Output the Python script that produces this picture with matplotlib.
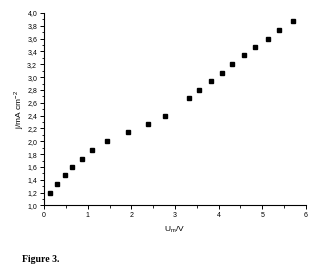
import numpy as np
import matplotlib
matplotlib.use('Agg')
import matplotlib.pyplot as plt
from matplotlib.ticker import MultipleLocator, FuncFormatter

# potential U_m / V and current density j / mA cm-2
u_m = [0.14, 0.30, 0.47, 0.64, 0.87, 1.09, 1.45, 1.92, 2.39, 2.78,
       3.33, 3.55, 3.83, 4.08, 4.31, 4.58, 4.84, 5.12, 5.39, 5.70]
j = [1.20, 1.33, 1.47, 1.60, 1.73, 1.87, 2.00, 2.14, 2.27, 2.40,
     2.67, 2.80, 2.94, 3.07, 3.20, 3.34, 3.47, 3.60, 3.73, 3.87]

plt.rcParams['font.family'] = ['Liberation Sans', 'DejaVu Sans']

fig = plt.figure(figsize=(3.29, 2.71), dpi=100)
ax = fig.add_axes([0.134, 0.242, 0.796, 0.71])

ax.plot(u_m, j, 'ks', markersize=3.2, linestyle='None')

ax.set_xlim(0, 6)
ax.set_ylim(1.0, 4.0)
ax.xaxis.set_major_locator(MultipleLocator(1))
ax.xaxis.set_minor_locator(MultipleLocator(0.5))
ax.yaxis.set_major_locator(MultipleLocator(0.2))
ax.yaxis.set_minor_locator(MultipleLocator(0.1))
ax.yaxis.set_major_formatter(FuncFormatter(lambda v, p: f'{v:.1f}'.replace('.', ',')))

ax.spines['top'].set_visible(False)
ax.spines['right'].set_visible(False)
for s in ('left', 'bottom'):
    ax.spines[s].set_linewidth(0.8)
ax.tick_params(which='major', direction='out', length=3, width=0.7, labelsize=5, pad=2)
ax.tick_params(which='minor', direction='out', length=1.8, width=0.6)

ax.set_xlabel('U$_\\mathregular{m}$/V', fontsize=6, labelpad=4)
ax.set_ylabel('j/mA cm$^\\mathregular{-2}$', fontsize=6, labelpad=1)

fig.text(0.067, 0.035, 'Figure 3.', fontsize=7, fontweight='bold',
         family=['Liberation Serif', 'DejaVu Serif'])

fig.savefig('out.png', dpi=100)
